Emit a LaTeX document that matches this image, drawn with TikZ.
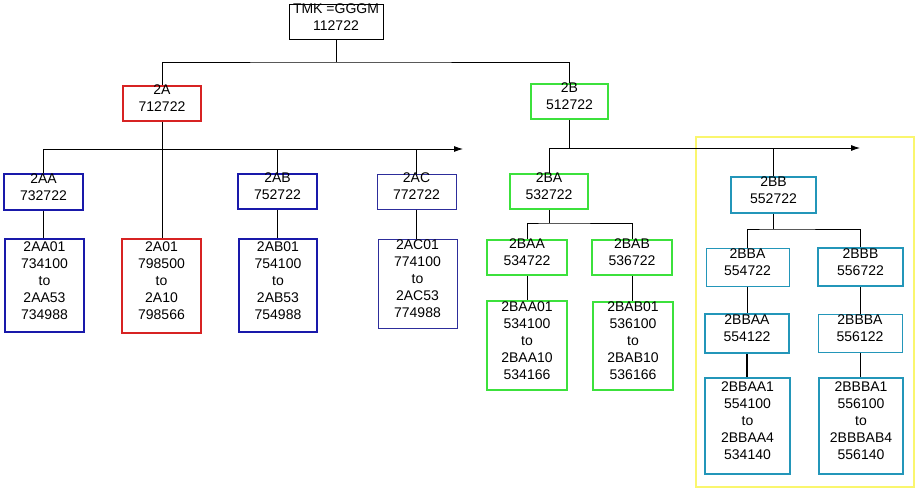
\documentclass[tikz,border=0pt]{standalone}
\usepackage{fontspec}
\setmainfont{Liberation Sans}
\usetikzlibrary{arrows.meta}
\definecolor{cred}{RGB}{215,35,35}
\definecolor{cblue}{RGB}{25,25,170}
\definecolor{cblueb}{RGB}{45,45,155}
\definecolor{cgreen}{RGB}{60,225,60}
\definecolor{cteal}{RGB}{35,150,185}
\definecolor{cyellow}{RGB}{250,246,110}
\newcommand\bt[1]{\raisebox{3.5pt}[\height][\depth]{\begin{tabular}{@{}c@{}}#1\end{tabular}}}
\begin{document}
\begin{tikzpicture}[x=1pt,y=-1pt,
  box/.style={draw, inner sep=0pt, font=\fontsize{14}{17}\selectfont, line width=1.7pt},
  thinbox/.style={box, line width=1pt},
  conn/.style={draw=black, line width=0.8pt},
  busarrow/.style={conn, -{Latex[length=9pt,width=6pt]}}]
\useasboundingbox (0,0) rectangle (920,492);
% yellow frame
\draw[cyellow, line width=1.2pt] (696,137) rectangle (914,487);
% top levels
\node[box, line width=1pt, draw=black, minimum width=94pt, minimum height=35pt] (tmk) at (336,22.5) {\bt{TMK =GGGM\\112722}};
\node[box, draw=cred, minimum width=78pt, minimum height=35pt] (a) at (162,103.5) {\bt{2A\\712722}};
\node[box, draw=cgreen, minimum width=77pt, minimum height=35pt] (b) at (569.5,101.5) {\bt{2B\\512722}};
% 2A children
\node[box, draw=cblue, minimum width=79pt, minimum height=36pt] (aa) at (43.5,192) {\bt{2AA\\732722}};
\node[box, draw=cblue, minimum width=79pt, minimum height=93pt] (aa01) at (44.5,285.5) {\bt{2AA01\\734100\\to\\2AA53\\734988}};
\node[box, draw=cred, minimum width=79pt, minimum height=94pt] (a01) at (161.5,286) {\bt{2A01\\798500\\to\\2A10\\798566}};
\node[box, draw=cblue, minimum width=79pt, minimum height=35pt] (ab) at (277.5,191.5) {\bt{2AB\\752722}};
\node[box, draw=cblue, minimum width=78pt, minimum height=93pt] (ab01) at (278,285.5) {\bt{2AB01\\754100\\to\\2AB53\\754988}};
\node[thinbox, draw=cblueb, minimum width=79pt, minimum height=35pt] (ac) at (416.5,191.5) {\bt{2AC\\772722}};
\node[thinbox, draw=cblueb, minimum width=79pt, minimum height=89pt] (ac01) at (417.5,283.5) {\bt{2AC01\\774100\\to\\2AC53\\774988}};
% 2B children
\node[box, draw=cgreen, minimum width=78pt, minimum height=35pt] (ba) at (549,191.5) {\bt{2BA\\532722}};
\node[box, draw=cgreen, minimum width=80pt, minimum height=35pt] (baa) at (527,257.5) {\bt{2BAA\\534722}};
\node[box, draw=cgreen, minimum width=80pt, minimum height=35pt] (bab) at (632,257.5) {\bt{2BAB\\536722}};
\node[box, draw=cgreen, minimum width=80pt, minimum height=89pt] (baa01) at (527,345.5) {\bt{2BAA01\\534100\\to\\2BAA10\\534166}};
\node[box, draw=cgreen, minimum width=80pt, minimum height=88pt] (bab01) at (633,346) {\bt{2BAB01\\536100\\to\\2BAB10\\536166}};
\node[box, draw=cteal, minimum width=85pt, minimum height=36pt] (bb) at (773.5,195) {\bt{2BB\\552722}};
\node[thinbox, draw=cteal, minimum width=83pt, minimum height=38pt] (bba) at (747.5,267) {\bt{2BBA\\554722}};
\node[box, draw=cteal, minimum width=85pt, minimum height=38pt] (bbb) at (860.5,267) {\bt{2BBB\\556722}};
\node[box, draw=cteal, minimum width=84pt, minimum height=39pt] (bbaa) at (747,333.5) {\bt{2BBAA\\554122}};
\node[thinbox, draw=cteal, minimum width=84pt, minimum height=38pt] (bbba) at (860,333) {\bt{2BBBA\\556122}};
\node[box, draw=cteal, minimum width=85pt, minimum height=96pt] (bbaa1) at (747.5,426) {\bt{2BBAA1\\554100\\to\\2BBAA4\\534140}};
\node[box, draw=cteal, minimum width=84pt, minimum height=96pt] (bbba1) at (861,426) {\bt{2BBBA1\\556100\\to\\2BBBAB4\\556140}};
% junction coordinates
\coordinate (j0) at (336,62);
\coordinate (busA) at (463,149);
\coordinate (busB) at (860,148);
\coordinate (jba) at (549,223);
\coordinate (jbb) at (771,229);
% connectors
\draw[conn] (tmk.south) -- (j0);
\draw[conn] (a.north) |- (j0) -| (b.north);
\draw[conn] (a.south) -- (a.south |- a01.north);
\draw[busarrow] (aa.north) |- (busA);
\draw[conn] (ab.north) -- (ab.north |- busA);
\draw[conn] (ac.north) -- (ac.north |- busA);
\draw[conn] (aa.south) -- (aa.south |- aa01.north);
\draw[conn] (ab.south) -- (ab.south |- ab01.north);
\draw[conn] (ac.south) -- (ac.south |- ac01.north);
\draw[conn] (b.south) -- (b.south |- busB);
\draw[busarrow] (ba.north) |- (busB);
\draw[conn] (bb.north) -- (bb.north |- busB);
\draw[conn] (ba.south) -- (jba);
\draw[conn] (baa.north) |- (jba) -| (bab.north);
\draw[conn] (baa.south) -- (baa.south |- baa01.north);
\draw[conn] (bab.south) -- (bab.south |- bab01.north);
\draw[conn] (bb.south) -- (bb.south |- jbb);
\draw[conn] (bba.north) |- (jbb) -| (bbb.north);
\draw[conn, line width=1.6pt] (bba.south) -- (bba.south |- bbaa.north);
\draw[conn, line width=1.6pt] (bbaa.south) -- (bbaa.south |- bbaa1.north);
\draw[conn] (bbb.south) -- (bbb.south |- bbba.north);
\draw[conn] (bbba.south) -- (bbba.south |- bbba1.north);
\end{tikzpicture}
\end{document}
